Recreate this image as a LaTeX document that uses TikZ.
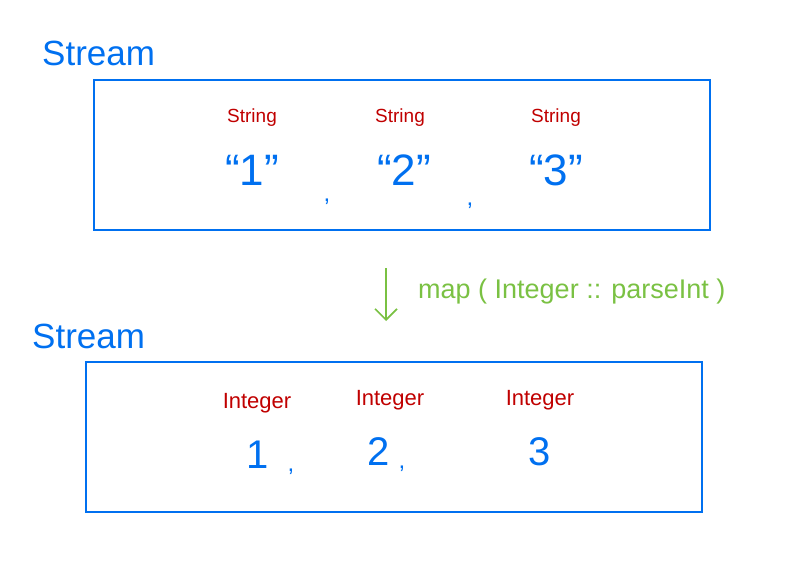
\documentclass[tikz,border=0pt]{standalone}
\usepackage{fontspec}
\setmainfont{Liberation Sans}
\usetikzlibrary{arrows.meta}
\definecolor{penblue}{RGB}{0,112,240}
\definecolor{penred}{RGB}{192,0,0}
\definecolor{pengreen}{RGB}{122,193,67}
\tikzset{
  title/.style={text=penblue,font=\fontsize{35}{37}\selectfont,anchor=base west,inner sep=0pt},
  typelabel/.style={text=penred,font=\fontsize{19}{21}\selectfont,inner sep=0pt},
  value/.style={text=penblue,font=\fontsize{44}{46}\selectfont,inner sep=0pt},
  sep/.style={text=penblue,font=\fontsize{24}{26}\selectfont,inner sep=0pt},
  streambox/.style={draw=penblue,line width=2pt}
}
\begin{document}
\begin{tikzpicture}[x=1pt,y=-1pt]
	\useasboundingbox (0,0) rectangle (800,583);
	\node[title] (stream1) at (42,66) {Stream};
	\draw [streambox] (94,80) rectangle (710,230);
	\node[typelabel] (str1) at (252,118) {String};
	\node[typelabel] (str2) at (400,118) {String};
	\node[typelabel] (str3) at (556,118) {String};
	\node[value] (s1) at (252,170) {“1”};
	\node[value] (s2) at (404,170) {“2”};
	\node[value] (s3) at (556,170) {“3”};
	\node[sep] (c1) at (327,202) {,};
	\node[sep] (c2) at (470,206) {,};
	\coordinate (from) at (386,268);
	\coordinate (to) at (386,321);
	\draw [pengreen,line width=1.6pt,-{Straight Barb[length=11pt,width=22pt]}] (from) -- (to);
	\node[text=pengreen,font=\fontsize{27}{29}\selectfont,anchor=west,inner sep=0pt] (map) at (418,292) {map ( Integer :: parseInt )};
	\node[title] (stream2) at (32,348) {Stream};
	\draw [streambox] (86,362) rectangle (702,512);
	\node[typelabel,font=\fontsize{22}{24}\selectfont] (int1) at (257,403) {Integer};
	\node[typelabel,font=\fontsize{22}{24}\selectfont] (int2) at (390,400) {Integer};
	\node[typelabel,font=\fontsize{22}{24}\selectfont] (int3) at (540,400) {Integer};
	\node[value,font=\fontsize{40}{42}\selectfont] (n1) at (258,455) {1};
	\node[value,font=\fontsize{40}{42}\selectfont] (n2) at (379,452) {2};
	\node[value,font=\fontsize{40}{42}\selectfont] (n3) at (540,452) {3};
	\node[sep] (d1) at (291,472) {,};
	\node[sep] (d2) at (402,469) {,};
\end{tikzpicture}
\end{document}
